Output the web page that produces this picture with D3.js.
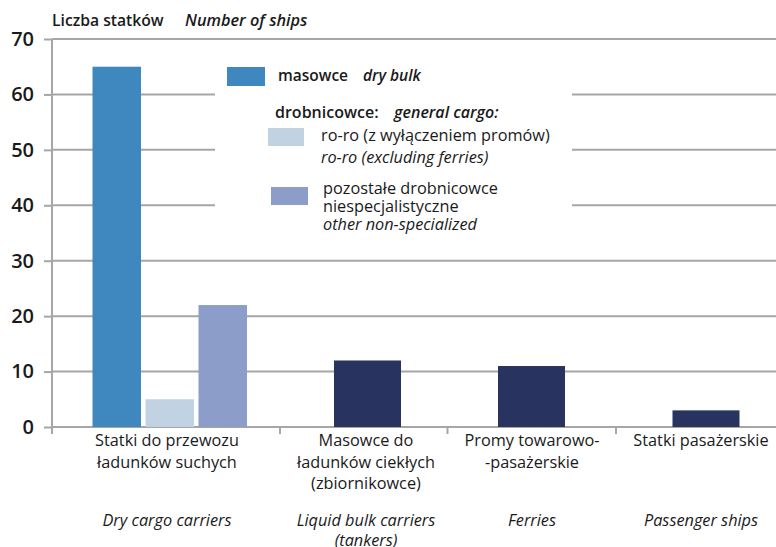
<!DOCTYPE html>
<html>
<head>
<meta charset="utf-8">
<script src="https://cdn.jsdelivr.net/npm/d3@7"></script>
<style>
  body { margin: 0; background: #fff; }
  svg { font-family: "Open Sans", Lato, sans-serif; }
</style>
</head>
<body>
<div id="chart"></div>
<script>
// data
const yTicks = [0, 10, 20, 30, 40, 50, 60, 70]
const categoriesPl = [
    ["Statki do przewozu", "ładunków suchych"],
    ["Masowce do", "ładunków ciekłych", "(zbiornikowce)"],
    ["Promy towarowo-", "-pasażerskie"],
    ["Statki pasażerskie"]
]
const categoriesEn = [
    ["Dry cargo carriers"],
    ["Liquid bulk carriers", "(tankers)"],
    ["Ferries"],
    ["Passenger ships"]
]
// dry cargo carriers split into three sub types
const drySeries = ["masowce", "roro", "pozostale"]
const dryValues = [65, 5, 22]
// other categories, single bar each
const otherValues = [12, 11, 3]

const colors = { masowce: "#3f87bf", roro: "#c1d3e3", pozostale: "#8b9dc8", other: "#28335f" }

// layout
const W = 776, H = 547
const axisX = 52
const gridColor = "#a6a6a6"
const fontSize = "16.3px"
const textColor = "#1a1a1a"

const svg = d3.select("#chart").append("svg")
    .attr("width", W)
    .attr("height", H)

const y = d3.scaleLinear().domain([0, 70]).range([427, 39])

// category centres and separators (categories are not evenly spaced)
const catIdx = d3.range(categoriesPl.length)
const xCenter = d3.scaleOrdinal().domain(catIdx).range([169.5, 367.5, 531.5, 706])
const xLabel = d3.scaleOrdinal().domain(catIdx).range([167, 366, 532, 701])
const separators = [axisX, 280, 447.5, 616]

// grid lines
svg.selectAll("line.grid")
    .data(yTicks)
    .enter().append("line")
    .attr("class", "grid")
    .attr("x1", axisX)
    .attr("x2", W)
    .attr("y1", d => y(d))
    .attr("y2", d => y(d))
    .style("stroke", gridColor)
    .style("stroke-width", 2)

// y axis
const yAxis = d3.axisLeft(y).tickValues(yTicks).tickSize(8).tickPadding(10)
svg.append("g")
    .attr("transform", "translate(" + axisX + ",0)")
    .call(yAxis)
    .call(g => g.select(".domain").remove())
    .call(g => g.selectAll(".tick line").style("stroke", gridColor).style("stroke-width", 2))
    .call(g => g.selectAll(".tick text")
        .style("font-size", "20px")
        .style("font-weight", "600")
        .style("fill", textColor)
        .style("font-family", "'Open Sans', sans-serif"))

svg.append("line")
    .attr("x1", axisX).attr("x2", axisX)
    .attr("y1", y(70)).attr("y2", y(0) + 7)
    .style("stroke", gridColor).style("stroke-width", 2)

// category separators under the x axis
svg.selectAll("line.sep")
    .data(separators)
    .enter().append("line")
    .attr("class", "sep")
    .attr("x1", d => d).attr("x2", d => d)
    .attr("y1", y(0)).attr("y2", y(0) + 7)
    .style("stroke", gridColor).style("stroke-width", 2)

// legend background hides grid lines
svg.append("rect")
    .attr("x", 215).attr("y", 50)
    .attr("width", 357).attr("height", 192)
    .style("fill", "#fff")

// dry cargo bars
const inner = d3.scaleBand().domain(drySeries).range([-77, 77.5]).paddingInner(0.085)
svg.selectAll("rect.dry")
    .data(drySeries)
    .enter().append("rect")
    .attr("class", "dry")
    .attr("x", (d, i) => xCenter(0) + inner(d))
    .attr("width", inner.bandwidth())
    .attr("y", (d, i) => y(dryValues[i]))
    .attr("height", (d, i) => y(0) - y(dryValues[i]))
    .style("fill", d => colors[d])

// other bars
const barW = 67
svg.selectAll("rect.other")
    .data(otherValues)
    .enter().append("rect")
    .attr("class", "other")
    .attr("x", (d, i) => xCenter(i + 1) - barW / 2)
    .attr("width", barW)
    .attr("y", d => y(d))
    .attr("height", d => y(0) - y(d))
    .style("fill", colors.other)

// x labels
const labels = svg.append("g")
    .style("font-size", fontSize)
    .style("fill", textColor)
    .attr("text-anchor", "middle")
catIdx.forEach(i => {
    categoriesPl[i].forEach((line, j) => {
        labels.append("text")
            .attr("x", xLabel(i))
            .attr("y", 446 + j * 21.5)
            .text(line)
    })
    categoriesEn[i].forEach((line, j) => {
        labels.append("text")
            .attr("x", xLabel(i))
            .attr("y", 526 + j * 19.5)
            .style("font-style", "italic")
            .text(line)
    })
})

// title
const title = svg.append("text")
    .attr("x", 52).attr("y", 26)
    .style("font-size", "15.7px")
    .style("font-weight", "600")
    .style("fill", textColor)
title.append("tspan").text("Liczba statków")
title.append("tspan").attr("x", 185).style("font-style", "italic").style("font-size", "16.3px").text("Number of ships")

// legend
const legend = svg.append("g").style("font-size", fontSize).style("fill", textColor)
legend.append("rect").attr("x", 227).attr("y", 67).attr("width", 38).attr("height", 19).style("fill", colors.masowce)
const l1 = legend.append("text").attr("x", 278).attr("y", 81).style("font-weight", "600").style("font-size", "15.5px")
l1.append("tspan").text("masowce")
l1.append("tspan").attr("x", 363).style("font-style", "italic").text("dry bulk")

const l2 = legend.append("text").attr("x", 275).attr("y", 118).style("font-weight", "600").style("font-size", "16px")
l2.append("tspan").text("drobnicowce:")
l2.append("tspan").attr("x", 394).style("font-style", "italic").text("general cargo:")

legend.append("rect").attr("x", 268).attr("y", 128).attr("width", 36).attr("height", 18).style("fill", colors.roro)
legend.append("text").attr("x", 321).attr("y", 141).text("ro-ro (z wyłączeniem promów)")
legend.append("text").attr("x", 321).attr("y", 163).style("font-style", "italic").text("ro-ro (excluding ferries)")

legend.append("rect").attr("x", 271).attr("y", 187).attr("width", 37).attr("height", 18).style("fill", colors.pozostale)
legend.append("text").attr("x", 323).attr("y", 194).text("pozostałe drobnicowce")
legend.append("text").attr("x", 323).attr("y", 212).text("niespecjalistyczne")
legend.append("text").attr("x", 323).attr("y", 230).style("font-style", "italic").text("other non-specialized")
</script>
</body>
</html>
